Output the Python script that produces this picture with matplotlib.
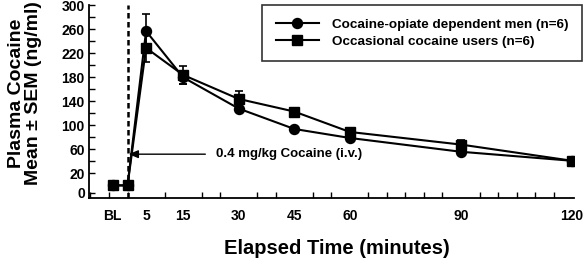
import matplotlib
matplotlib.use('Agg')
import matplotlib.pyplot as plt
from matplotlib.ticker import MultipleLocator

plt.rcParams['font.family'] = ['Liberation Sans', 'DejaVu Sans']
plt.rcParams['font.weight'] = 'bold'

# Time points (minutes); BL plotted at -4
times = [-4, 0, 5, 15, 30, 45, 60, 90, 120]
opiate_mean = [0, 0, 257, 180, 128, 94, 79, 56, 41]
opiate_sem = [0, 0, 28, 11, 5, 4, 5, 5, 3]
occasional_mean = [0, 0, 229, 184, 144, 123, 89, 68, 41]
occasional_sem = [0, 0, 23, 15, 14, 5, 6, 8, 3]

xtick_pos = [-4, 5, 15, 30, 45, 60, 90, 120]
xtick_labels = ['BL', '5', '15', '30', '45', '60', '90', '120']
ytick_pos = [-12, 20, 60, 100, 140, 180, 220, 260, 300]
ytick_labels = ['0', '20', '60', '100', '140', '180', '220', '260', '300']

fig = plt.figure(figsize=(5.83, 2.6), dpi=100)
ax = fig.add_axes([89 / 583, 62 / 260, 485 / 583, 192.7 / 260])

eb1 = ax.errorbar(times, opiate_mean, yerr=opiate_sem, color='black', lw=1.5,
                  marker='o', ms=7.2, capsize=3, elinewidth=1.2, capthick=1.2,
                  zorder=3)
eb2 = ax.errorbar(times, occasional_mean, yerr=occasional_sem, color='black', lw=1.5,
                  marker='s', ms=7.2, capsize=3, elinewidth=1.2, capthick=1.2,
                  zorder=3)

# injection marker
ax.axvline(0, color='black', lw=1.8, ls=(0, (2.2, 1.4)), zorder=2)
ax.annotate('0.4 mg/kg Cocaine (i.v.)', xy=(0.3, 52), xytext=(24, 52),
            va='center', ha='left', fontsize=9.5, fontweight='bold',
            arrowprops=dict(arrowstyle='-|>,head_length=0.6,head_width=0.25',
                            color='black', lw=1.0, shrinkA=6, shrinkB=0))

ax.set_xlim(-10.4, 120.5)
ax.set_ylim(-21, 300)
ax.set_xticks(xtick_pos)
ax.set_xticklabels(xtick_labels, fontsize=10, fontweight='bold')
ax.xaxis.set_minor_locator(MultipleLocator(5))
ax.set_yticks(ytick_pos)
ax.set_yticklabels(ytick_labels, fontsize=10, fontweight='bold')
ax.set_yticks([40, 80, 120, 160, 200, 240, 280], minor=True)
ax.tick_params(axis='x', which='major', direction='in', length=0, pad=8)
ax.tick_params(axis='x', which='minor', direction='in', length=4, width=1)
ax.tick_params(axis='y', which='both', direction='in', length=4, width=1, pad=3)

for s in ['top', 'right']:
    ax.spines[s].set_visible(False)
for s in ['left', 'bottom']:
    ax.spines[s].set_linewidth(1.3)

ax.set_xlabel('Elapsed Time (minutes)', fontsize=14.5, fontweight='bold')
ax.xaxis.set_label_coords(0.511, -0.215)
ax.set_ylabel('Plasma Cocaine\nMean \u00b1 SEM (ng/ml)', fontsize=14,
              fontweight='bold', linespacing=1.0)
ax.yaxis.set_label_coords(-0.097, 0.545)

leg = ax.legend([eb1[0], eb2[0]],
                ['Cocaine-opiate dependent men (n=6)', 'Occasional cocaine users (n=6)'],
                loc='upper left', bbox_to_anchor=(0.357, 1.0), fontsize=9.7,
                frameon=True, fancybox=False, edgecolor='black',
                handlelength=3.2, handletextpad=1.0, labelspacing=0.3,
                borderpad=1.0, borderaxespad=0)
leg.get_frame().set_linewidth(1.2)
for t in leg.get_texts():
    t.set_fontweight('bold')

fig.savefig('out.png', dpi=100)
